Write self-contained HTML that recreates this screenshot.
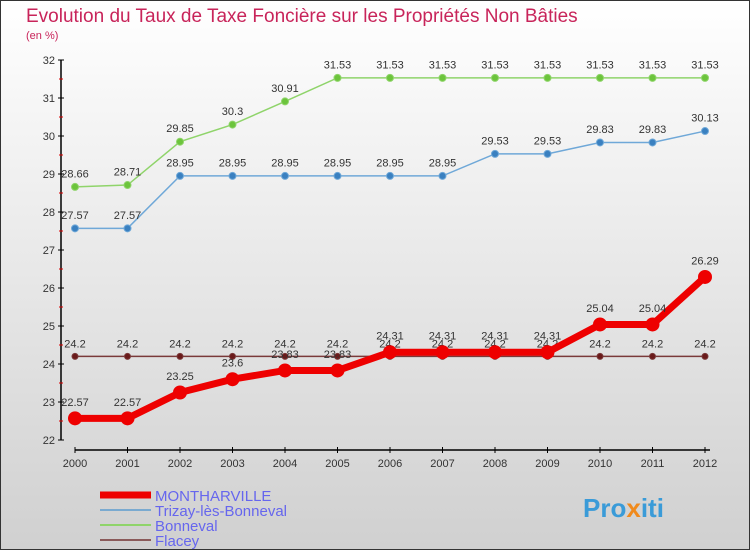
<!DOCTYPE html>
<html><head><meta charset="utf-8"><style>
body{margin:0}
#c{width:750px;height:550px;position:relative;font-family:"Liberation Sans",sans-serif}
</style></head><body>
<div id="c">
<svg id="s" width="750" height="550" xmlns="http://www.w3.org/2000/svg">
<defs><linearGradient id="bg" x1="0" y1="0" x2="0" y2="1"><stop offset="0" stop-color="#ffffff"/><stop offset="1" stop-color="#d0d0d0"/></linearGradient></defs>
<rect x="0.5" y="0.5" width="749" height="549" fill="url(#bg)" stroke="#333"/>
<text x="26" y="22" font-size="19" fill="#c8245a">Evolution du Taux de Taxe Foncière sur les Propriétés Non Bâties</text>
<text x="26" y="39" font-size="11" fill="#c8245a">(en %)</text>
<g id="g"></g>
<text x="583" y="517" font-size="26" font-weight="bold" fill="#3a9bd8">Pro<tspan fill="#f08a1c">x</tspan>iti</text>
</svg></div>
<script>
const years=[2000,2001,2002,2003,2004,2005,2006,2007,2008,2009,2010,2011,2012];
const montharville=[22.57,22.57,23.25,23.6,23.83,23.83,24.31,24.31,24.31,24.31,25.04,25.04,26.29];
const trizay=[27.57,27.57,28.95,28.95,28.95,28.95,28.95,28.95,29.53,29.53,29.83,29.83,30.13];
const bonneval=[28.66,28.71,29.85,30.3,30.91,31.53,31.53,31.53,31.53,31.53,31.53,31.53,31.53];
const flacey=[24.2,24.2,24.2,24.2,24.2,24.2,24.2,24.2,24.2,24.2,24.2,24.2,24.2];
const yTicks=[22,23,24,25,26,27,28,29,30,31,32];
const NS="http://www.w3.org/2000/svg",g=document.getElementById('g');
const X=i=>75+52.5*i, Y=v=>440-(v-22)*38;
function mk(t,a,p){const e=document.createElementNS(NS,t);for(const k in a)e.setAttribute(k,a[k]);(p||g).appendChild(e);return e;}
let ax=mk('line',{x1:61,y1:60,x2:61,y2:440,stroke:'#000','stroke-width':1.5});

yTicks.forEach(v=>{mk('line',{x1:58,x2:64,y1:Y(v),y2:Y(v),stroke:'#000'});
 if(v<32)mk('line',{x1:59,x2:63,y1:Y(v+0.5),y2:Y(v+0.5),stroke:'#d00'});
 const t=mk('text',{x:55,y:Y(v)+4,'font-size':11,fill:'#333','text-anchor':'end'});t.textContent=v;
 });
let xa=mk('line',{x1:75,y1:450,x2:710,y2:450,stroke:'#000','stroke-width':1.5});

years.forEach((y,i)=>{mk('line',{x1:X(i),x2:X(i),y1:447,y2:453,stroke:'#000'});
 const t=mk('text',{x:X(i),y:467,'font-size':11,fill:'#333','text-anchor':'middle'});t.textContent=y;
 });
function series(name,d,col,dot,w,r){
 const grp=mk('g',{});
 const p=mk('polyline',{points:d.map((v,i)=>X(i)+','+Y(v)).join(' '),fill:'none',stroke:col,'stroke-width':w},grp);
 
 d.forEach((v,i)=>{const c=mk('circle',{cx:X(i),cy:Y(v),r:r,fill:dot,stroke:col},grp);
  
  const t=mk('text',{x:X(i),y:Y(v)-(r+6),'font-size':11,fill:'#333','text-anchor':'middle'},grp);t.textContent=v;
  });
}
series('flacey',flacey,'#7a3a3a','#6a1a1a',1.5,3);
series('bonneval',bonneval,'#8fd46a','#6cc43c',1.5,3.5);
series('trizay',trizay,'#6fa8d8','#3a80c0',1.5,3.5);
series('montharville',montharville,'#ee0000','#ee0000',7,6.5);
const leg=[['MONTHARVILLE','#ee0000',7],['Trizay-lès-Bonneval','#7aaad0',2],['Bonneval','#8fd46a',2],['Flacey','#8a5a5a',2]];
leg.forEach((l,i)=>{const y=492+i*15;
 const gg=mk('g',{});
 mk('line',{x1:100,x2:151,y1:y+3,y2:y+3,stroke:l[1],'stroke-width':l[2]},gg);
 const t=mk('text',{x:155,y:y+9,'font-size':15,fill:'#6666ee'},gg);t.textContent=l[0];});
</script></body></html>
